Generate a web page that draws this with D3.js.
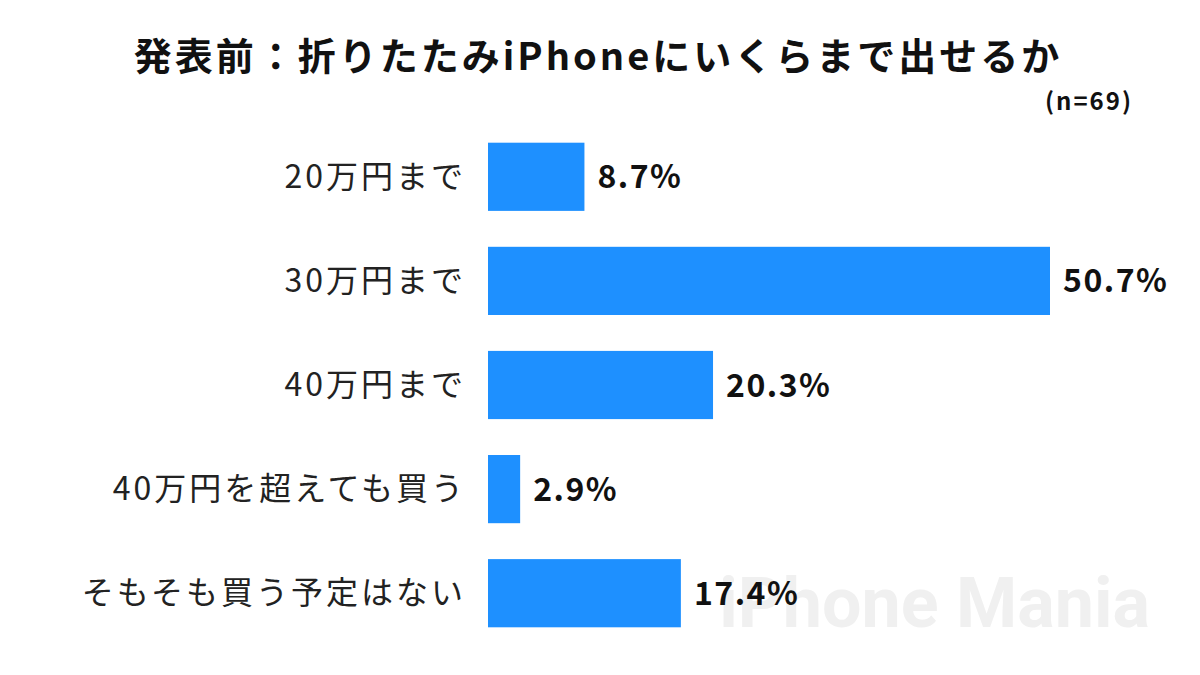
<!DOCTYPE html>
<html><head><meta charset="utf-8">
<script src="https://cdn.jsdelivr.net/npm/d3@7"></script>
<style>body{margin:0;background:#fff}svg{font-family:"Noto Sans CJK JP",sans-serif}</style>
</head><body><svg id="chart" width="1200" height="675"></svg>
<script>
// data
var categories = ["20万円まで", "30万円まで", "40万円まで", "40万円を超えても買う", "そもそも買う予定はない"];
var values = [8.7, 50.7, 20.3, 2.9, 17.4];

var svg = d3.select("#chart");

// watermark sits behind the bars
svg.append("text").attr("x", 1150).attr("y", 627).attr("text-anchor", "end")
  .attr("font-family", "Roboto, sans-serif").attr("font-weight", 700).attr("font-size", 70)
  .attr("fill", "#f0f0f0").text("iPhone Mania");

var x = d3.scaleLinear().domain([0, 50.7]).range([488, 1050]);
var y = d3.scaleBand().domain(categories).range([125, 645]).paddingInner(0.345).paddingOuter(0.17);

svg.append("text").attr("x", 598).attr("y", 70).attr("text-anchor", "middle")
  .attr("font-weight", 700).attr("font-size", 38).attr("letter-spacing", 3).attr("fill", "#111")
  .text("発表前：折りたたみiPhoneにいくらまで出せるか");
svg.append("text").attr("x", 1133).attr("y", 110).attr("text-anchor", "end")
  .attr("font-weight", 700).attr("font-size", 24).attr("letter-spacing", 2).attr("fill", "#111").text("(n=69)");

var rows = svg.selectAll("g.row").data(categories).join("g").attr("class", "row");

rows.append("rect")
  .attr("x", x(0)).attr("y", d => y(d))
  .attr("width", (d, i) => x(values[i]) - x(0)).attr("height", y.bandwidth())
  .attr("fill", "#1e90ff");

rows.append("text")
  .attr("x", 466).attr("y", d => y(d) + y.bandwidth() / 2).attr("dy", "0.35em")
  .attr("text-anchor", "end").attr("font-size", 32).attr("letter-spacing", 3).attr("fill", "#222").text(d => d);

rows.append("text")
  .attr("x", (d, i) => x(values[i]) + 13).attr("y", d => y(d) + y.bandwidth() / 2).attr("dy", "0.36em")
  .attr("font-weight", 700).attr("font-size", 32).attr("letter-spacing", 1.5).attr("fill", "#111")
  .text((d, i) => values[i].toFixed(1) + "%");
</script></body></html>
